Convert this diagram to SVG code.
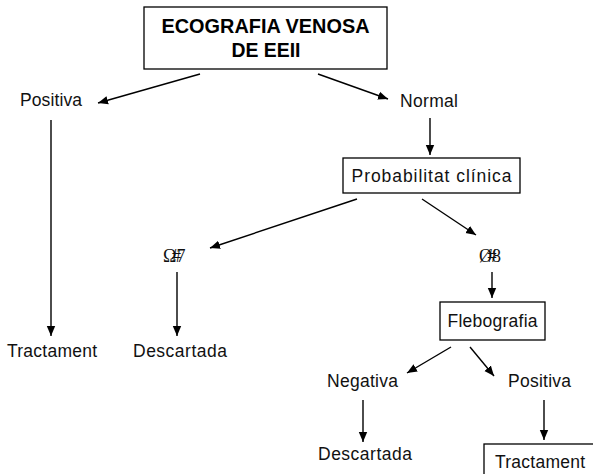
<svg xmlns="http://www.w3.org/2000/svg" width="593" height="474" viewBox="0 0 593 474">
  <style>
    .box { fill: #ffffff; stroke: #000000; stroke-width: 1.3; }
    .lbl { font-family: "Liberation Sans", Arial, sans-serif; font-size: 17.5px; fill: #111111; }
    .title { font-family: "Liberation Sans", Arial, sans-serif; font-size: 21px; font-weight: bold; fill: #000000; }
    .sym { font-family: "Liberation Serif", "DejaVu Serif", serif; font-size: 18px; fill: #111111; letter-spacing: -4.5px; }
    .edge { stroke: #000000; stroke-width: 1.4; fill: none; marker-end: url(#arrow); }
  </style>
  <defs>
    <marker id="arrow" viewBox="0 0 10 10" refX="10" refY="5" markerWidth="10" markerHeight="10" markerUnits="userSpaceOnUse" orient="auto">
      <path d="M0,0.8 L10,5 L0,9.2 Z" fill="#000000"/>
    </marker>
  </defs>
  <rect width="593" height="474" fill="#ffffff"/>

  <g id="connectors">
    <line class="edge" x1="200" y1="74" x2="98" y2="103"/>
    <line class="edge" x1="318" y1="74" x2="388" y2="99"/>
    <line class="edge" x1="430" y1="118" x2="430" y2="155"/>
    <line class="edge" x1="357" y1="199" x2="210" y2="248"/>
    <line class="edge" x1="422" y1="199" x2="476" y2="235"/>
    <line class="edge" x1="51" y1="120" x2="51" y2="336"/>
    <line class="edge" x1="177" y1="272" x2="177" y2="336"/>
    <line class="edge" x1="492" y1="272" x2="492" y2="298"/>
    <line class="edge" x1="451" y1="347" x2="407" y2="373"/>
    <line class="edge" x1="470" y1="347" x2="494" y2="376"/>
    <line class="edge" x1="363" y1="400" x2="363" y2="442"/>
    <line class="edge" x1="544" y1="400" x2="544" y2="440"/>
  </g>

  <g id="ecografia">
    <rect class="box" x="144" y="7" width="243" height="62"/>
    <text class="title" x="265.5" y="33" text-anchor="middle" textLength="208" lengthAdjust="spacingAndGlyphs">ECOGRAFIA VENOSA</text>
    <text class="title" x="266" y="57" text-anchor="middle" textLength="69" lengthAdjust="spacingAndGlyphs">DE EEII</text>
  </g>

  <g id="positiva-1">
    <text class="lbl" x="20" y="106" textLength="62">Positiva</text>
  </g>

  <g id="normal">
    <text class="lbl" x="400" y="107" textLength="58">Normal</text>
  </g>

  <g id="probabilitat">
    <rect class="box" x="343" y="158" width="177" height="35"/>
    <text class="lbl" x="431.5" y="182" text-anchor="middle" textLength="160">Probabilitat clínica</text>
  </g>

  <g id="baixa">
    <text class="sym" x="163" y="262">Ω#7</text>
  </g>

  <g id="alta">
    <text class="sym" x="479" y="262">Ø#8</text>
  </g>

  <g id="tractament-1">
    <text class="lbl" x="7" y="357" textLength="90">Tractament</text>
  </g>

  <g id="descartada-1">
    <text class="lbl" x="133" y="357" textLength="94">Descartada</text>
  </g>

  <g id="flebografia">
    <rect class="box" x="440" y="302" width="105" height="38"/>
    <text class="lbl" x="492.5" y="327" text-anchor="middle" textLength="90">Flebografia</text>
  </g>

  <g id="negativa">
    <text class="lbl" x="327" y="387" textLength="71">Negativa</text>
  </g>

  <g id="positiva-2">
    <text class="lbl" x="508" y="387" textLength="63">Positiva</text>
  </g>

  <g id="descartada-2">
    <text class="lbl" x="318" y="460" textLength="94">Descartada</text>
  </g>

  <g id="tractament-2">
    <rect class="box" x="484" y="444" width="120" height="40"/>
    <text class="lbl" x="495" y="468" textLength="90">Tractament</text>
  </g>
</svg>
